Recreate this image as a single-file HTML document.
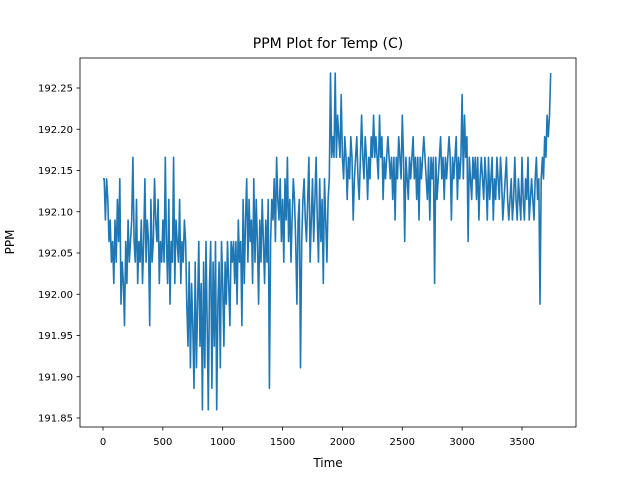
<!DOCTYPE html>
<html><head><meta charset="utf-8"><style>
body{margin:0;background:#fff}
svg text{font-family:"DejaVu Sans","Liberation Sans",sans-serif;fill:#000}
</style></head><body>
<svg id="chart" width="640" height="480">
<rect width="640" height="480" fill="#fff"/>
<text x="328" y="48" font-size="14" text-anchor="middle">PPM Plot for Temp (C)</text>
<text x="328" y="467" font-size="12" text-anchor="middle">Time</text>
<text transform="translate(14,242) rotate(-90)" font-size="12" text-anchor="middle">PPM</text>
<g id="ticks"></g>
<polyline id="line" fill="none" stroke="#1f77b4" stroke-width="1.6" stroke-linejoin="round"/>
<rect x="80" y="58" width="496" height="369" fill="none" stroke="#000" stroke-width="0.8"/>
</svg>
<script>
const xTicks = [0,500,1000,1500,2000,2500,3000,3500];
const yTicks = [191.85,191.90,191.95,192.00,192.05,192.10,192.15,192.20,192.25];
const timeStep = 10;
const ppm = [
192.140,192.140,192.090,192.140,192.115,192.064,192.090,192.039,192.064,192.013,192.090,192.039,192.115,192.064,192.140,191.988,192.039,192.013,191.962,192.064,192.013,192.090,192.039,192.064,192.090,192.166,192.064,192.039,192.115,192.013,192.064,192.039,192.090,192.013,192.064,192.140,192.039,192.090,192.064,191.962,192.115,192.039,192.064,192.140,192.090,192.064,192.115,192.013,192.064,192.039,
192.090,192.039,192.166,192.064,192.013,192.115,191.988,192.064,192.039,192.166,192.013,192.090,192.064,192.039,192.115,192.013,192.064,192.039,192.090,192.064,
191.988,191.937,192.039,191.911,192.013,191.962,191.886,192.039,191.911,191.988,192.064,191.937,192.013,191.860,192.039,191.911,192.064,191.962,191.860,192.013,192.064,191.886,192.039,191.937,192.064,191.860,191.988,192.039,191.911,192.064,192.013,191.937,192.039,191.988,192.064,192.013,191.962,192.064,192.039,192.064,
192.013,192.064,191.988,192.090,192.039,192.064,191.962,192.115,192.013,192.090,192.140,192.039,192.115,192.064,192.090,192.013,192.140,192.039,192.115,192.064,191.988,192.090,192.039,192.115,192.064,192.013,192.090,192.039,192.115,191.886,
192.064,192.115,192.090,192.140,192.064,192.166,192.115,192.090,192.140,192.064,192.115,192.039,192.140,192.090,192.166,192.064,192.115,192.039,192.090,192.140,192.115,192.064,191.988,192.090,192.115,191.911,192.064,192.115,192.140,192.090,192.064,192.115,192.166,192.039,192.090,192.140,192.064,192.115,192.166,192.090,192.039,192.140,192.064,192.115,192.013,192.140,192.090,192.039,192.115,192.140,
192.268,192.166,192.191,192.166,192.268,192.166,192.217,192.191,192.166,192.242,192.166,192.140,192.191,192.166,192.115,192.166,192.140,192.191,192.166,192.090,192.140,192.166,192.191,192.140,192.115,192.166,192.217,192.166,192.140,192.191,192.166,192.115,192.166,192.140,192.191,192.166,192.217,192.166,192.191,192.166,192.140,192.217,192.166,192.191,192.115,192.166,192.140,192.166,192.191,192.166,
192.140,192.166,192.115,192.166,192.090,192.166,192.140,192.191,192.166,192.140,192.217,192.166,192.064,192.166,192.140,192.115,192.166,192.140,192.166,192.191,192.140,192.166,192.115,192.166,192.090,192.166,192.140,192.166,192.191,192.166,192.140,192.115,192.166,192.090,192.166,192.140,192.166,192.013,192.166,192.115,192.140,192.166,192.191,192.140,192.166,192.115,192.166,192.140,192.166,192.191,
192.166,192.090,192.166,192.140,192.166,192.191,192.115,192.166,192.140,192.166,192.242,192.140,192.217,192.166,192.191,192.064,192.166,192.140,192.115,192.166,192.140,192.166,192.115,192.166,192.090,192.140,192.166,192.140,192.115,192.166,192.140,192.090,192.166,192.115,192.140,192.166,192.090,192.140,192.115,192.166,192.140,192.115,192.166,192.140,192.090,192.115,192.140,192.166,192.115,192.090,
192.115,192.140,192.090,192.115,192.166,192.115,192.090,192.140,192.115,192.090,192.166,192.115,192.090,192.140,192.115,192.166,192.090,192.115,192.140,192.115,192.090,192.140,192.166,192.115,192.140,191.988,192.140,192.166,192.140,192.191,192.166,192.217,192.191,192.217,192.268
];
const X = t => 103 + t * (419 / 3500);
const Y = v => 418 - (v - 191.85) / 0.05 * 41.25;
const ns = "http://www.w3.org/2000/svg";
const g = document.getElementById('ticks');
xTicks.forEach(t => {
  const l = document.createElementNS(ns, 'line');
  
  
  l.setAttribute('x1', X(t)); l.setAttribute('x2', X(t));
  l.setAttribute('y1', 427); l.setAttribute('y2', 430.5);
  l.setAttribute('stroke', '#000'); l.setAttribute('stroke-width', '0.8');
  g.appendChild(l);
  const tx = document.createElementNS(ns, 'text');
  
  
  tx.setAttribute('x', X(t)); tx.setAttribute('y', 445);
  tx.setAttribute('font-size', '10'); tx.setAttribute('text-anchor', 'middle');
  tx.textContent = t;
  g.appendChild(tx);
});
yTicks.forEach(v => {
  const l = document.createElementNS(ns, 'line');
  
  
  l.setAttribute('x1', 76.5); l.setAttribute('x2', 80);
  l.setAttribute('y1', Y(v)); l.setAttribute('y2', Y(v));
  l.setAttribute('stroke', '#000'); l.setAttribute('stroke-width', '0.8');
  g.appendChild(l);
  const tx = document.createElementNS(ns, 'text');
  
  
  tx.setAttribute('x', 73); tx.setAttribute('y', Y(v) + 3.5);
  tx.setAttribute('font-size', '10'); tx.setAttribute('text-anchor', 'end');
  tx.textContent = v.toFixed(2);
  g.appendChild(tx);
});
document.getElementById('line').setAttribute('points',
  ppm.map((v, i) => X(i * timeStep).toFixed(1) + ',' + Y(v).toFixed(1)).join(' '));
</script>
</body></html>
